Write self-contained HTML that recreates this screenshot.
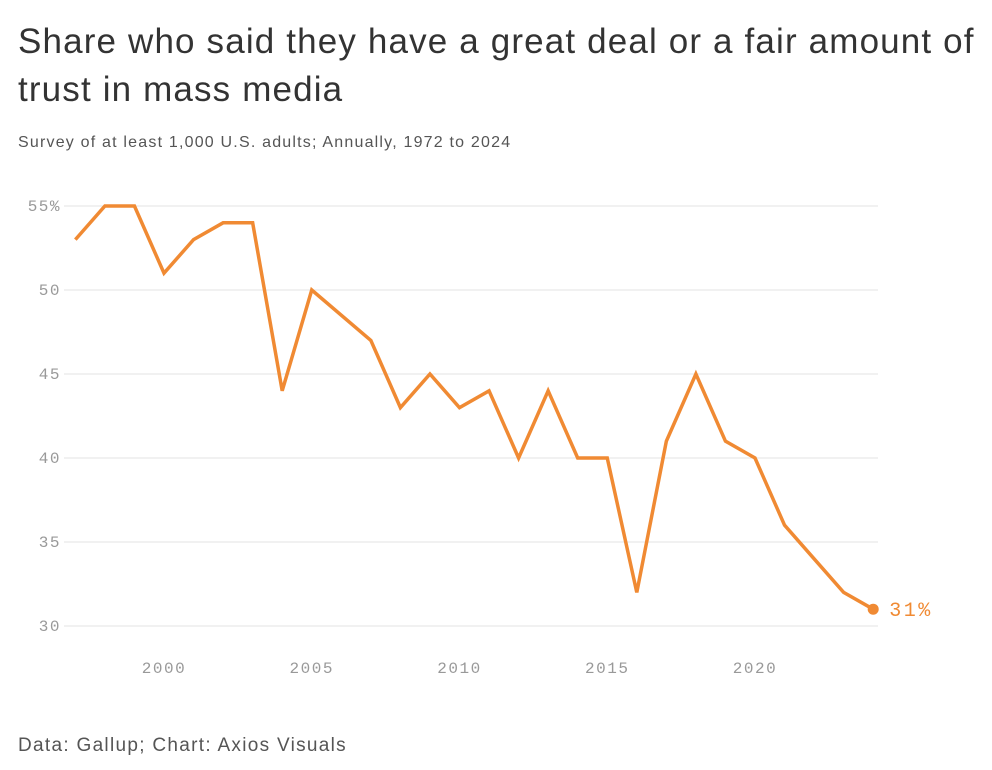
<!DOCTYPE html>
<html><head><meta charset="utf-8"><style>
body{margin:0;background:#fff;width:992px;height:770px;overflow:hidden;font-family:"Liberation Sans",sans-serif;}
h1{position:absolute;left:18px;top:18px;margin:0;font-size:35px;line-height:48px;font-weight:400;color:#333;width:972px;letter-spacing:1.15px}
.sub{position:absolute;left:18px;top:134px;font-size:16px;color:#555;letter-spacing:1.2px}
.src{position:absolute;left:18px;top:735px;font-size:19px;color:#555;letter-spacing:1.3px}
svg{position:absolute;left:0;top:0}
</style></head><body>
<h1>Share who said they have a great deal or a fair amount of trust in mass media</h1>
<div class="sub">Survey of at least 1,000 U.S. adults; Annually, 1972 to 2024</div>
<svg id="c" width="992" height="770"></svg>
<div class="src">Data: Gallup; Chart: Axios Visuals</div>
<script>
const years=[1997,1998,1999,2000,2001,2002,2003,2004,2005,2007,2008,2009,2010,2011,2012,2013,2014,2015,2016,2017,2018,2019,2020,2021,2022,2023,2024];
const values=[53,55,55,51,53,54,54,44,50,47,43,45,43,44,40,44,40,40,32,41,45,41,40,36,34,32,31];
const yTicks=[30,35,40,45,50,55];
const xTicks=[2000,2005,2010,2015,2020];
const X=y=>164+(y-2000)*29.55;
const Y=v=>626-(v-30)*16.8;
const svg=document.getElementById('c');const NS='http://www.w3.org/2000/svg';
function mk(t,a){const e=document.createElementNS(NS,t);for(const k in a)e.setAttribute(k,a[k]);svg.appendChild(e);return e;}
yTicks.forEach(t=>{
 const l=mk('line',{x1:64,x2:878,y1:Y(t),y2:Y(t),stroke:'#e3e3e3','stroke-width':1});
 
 
 const tx=mk('text',{x:61,y:Y(t)+5,'text-anchor':'end','font-family':'Liberation Mono, monospace','font-size':16,'letter-spacing':1.5,fill:'#999'});
 tx.textContent=t===55?'55%':t;
 
 
});
xTicks.forEach(t=>{
 const tx=mk('text',{x:X(t),y:673,'text-anchor':'middle','font-family':'Liberation Mono, monospace','font-size':16,'letter-spacing':1.5,fill:'#999'});
 tx.textContent=t;
 
 
});
const p=mk('polyline',{points:years.map((y,i)=>X(y)+','+Y(values[i])).join(' '),fill:'none',stroke:'#f08a33','stroke-width':3.5,'stroke-linejoin':'miter'});


const n=years.length-1;
const d=mk('circle',{cx:X(years[n]),cy:Y(values[n]),r:5.5,fill:'#f08a33'});


const lb=mk('text',{x:X(years[n])+16,y:Y(values[n])+7,'font-family':'Liberation Mono, monospace','font-size':20,'letter-spacing':2.5,fill:'#f08a33'});
lb.textContent=values[n]+'%';


</script>
</body></html>
